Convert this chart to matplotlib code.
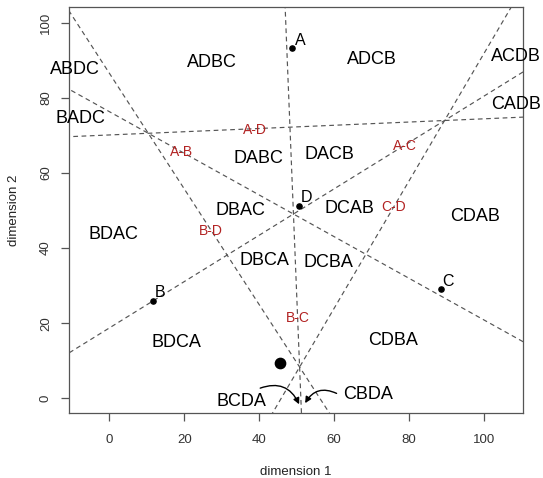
import numpy as np
import matplotlib
matplotlib.use("Agg")
import matplotlib.pyplot as plt

plt.rcParams['font.family'] = ['Liberation Sans', 'DejaVu Sans']

# ideal points (objects)
pt_names = ["A", "B", "C", "D"]
pt_x = [48.9, 11.6, 88.5, 50.7]
pt_y = [93.2, 25.9, 29.0, 51.3]

# subject point
subj_x = [45.6]
subj_y = [9.5]

# region (ranking) labels
reg_labels = ["ADBC", "ADCB", "ABDC", "BADC", "ACDB", "CADB", "DABC", "DACB",
              "DBAC", "DCAB", "DBCA", "DCBA", "CDAB", "BDAC", "BDCA", "CDBA",
              "BCDA", "CBDA"]
reg_x = [27.4, 70.2, -9.2, -7.7, 108.6, 108.6, 39.9, 58.9,
         35.0, 64.2, 41.3, 58.6, 97.7, 1.0, 17.9, 75.7, 35.3, 69.2]
reg_y = [89.5, 90.1, 87.5, 74.4, 90.9, 78.1, 63.9, 64.9,
         50.1, 50.4, 36.7, 36.2, 48.3, 43.5, 14.8, 15.3, -0.9, 1.1]

# bisector labels
bis_pairs = [("A", "D"), ("A", "B"), ("A", "C"), ("C", "D"), ("B", "D"), ("B", "C")]
bis_lab_x = [38.9, 19.3, 79.0, 76.0, 27.0, 50.3]
bis_lab_y = [71.4, 65.6, 67.2, 50.9, 44.5, 21.5]

# arrows (from label to region)
arr_from_x = [40.3, 60.7]
arr_from_y = [2.7, 1.3]
arr_to_x = [50.7, 52.3]
arr_to_y = [-1.6, -1.3]
arr_rad = [-0.45, 0.45]

xlim = (-10.7, 110.5)
ylim = (-4.0, 104.1)

fig = plt.figure(figsize=(5.43, 4.78), dpi=100)
ax = fig.add_axes([69.3/543, 1-413.3/478, (523-69.3)/543, (413.3-7.3)/478])
ax.set_xlim(*xlim)
ax.set_ylim(*ylim)

# perpendicular bisectors
P = {n: np.array([x, y]) for n, x, y in zip(pt_names, pt_x, pt_y)}
t = np.array([-400.0, 400.0])
for a, b in [("A", "B"), ("A", "C"), ("A", "D"), ("B", "C"), ("B", "D"), ("C", "D")]:
    m = (P[a] + P[b]) / 2
    d = P[b] - P[a]
    perp = np.array([-d[1], d[0]]) / np.hypot(*d)
    ax.plot(m[0] + t*perp[0], m[1] + t*perp[1], color='#555555', lw=0.85,
            linestyle=(0, (4, 3)), zorder=1)

ax.scatter(pt_x, pt_y, s=14, color='black', zorder=3)
ax.scatter(subj_x, subj_y, s=55, color='black', zorder=3)
for n, x, y in zip(pt_names, pt_x, pt_y):
    ax.annotate(n, (x, y), xytext=(1.5, 0.5), textcoords='offset points',
                ha='left', va='bottom', fontsize=11.5, color='black')

for lab, x, y in zip(reg_labels, reg_x, reg_y):
    ax.text(x, y, lab, ha='center', va='center', fontsize=13, color='black',
            clip_on=False)

for (a, b), x, y in zip(bis_pairs, bis_lab_x, bis_lab_y):
    ax.text(x, y, f"{a}-{b}", ha='center', va='center', fontsize=10,
            color='#b22222')

for fx, fy, tx, ty, r in zip(arr_from_x, arr_from_y, arr_to_x, arr_to_y, arr_rad):
    ax.annotate("", xy=(tx, ty), xytext=(fx, fy),
                arrowprops=dict(arrowstyle='-|>', color='black', lw=1.0,
                                mutation_scale=9,
                                connectionstyle=f"arc3,rad={r}",
                                shrinkA=0, shrinkB=0))

ax.set_xticks([0, 20, 40, 60, 80, 100])
ax.set_yticks([0, 20, 40, 60, 80, 100])
ax.tick_params(direction='out', length=5.5, width=0.9, colors='#555555',
               labelcolor='#333333', labelsize=9.5, pad=7)
ax.tick_params(axis='x', pad=9.5)
for lbl in ax.get_yticklabels():
    lbl.set_rotation(90)
    lbl.set_va('center')
for s in ax.spines.values():
    s.set_color('#555555')
    s.set_linewidth(0.9)

ax.set_xlabel("dimension 1", fontsize=9.5, color='#222222', labelpad=14.5)
ax.set_ylabel("dimension 2", fontsize=9.5, color='#222222', labelpad=14)

fig.savefig("out.png", dpi=100)
